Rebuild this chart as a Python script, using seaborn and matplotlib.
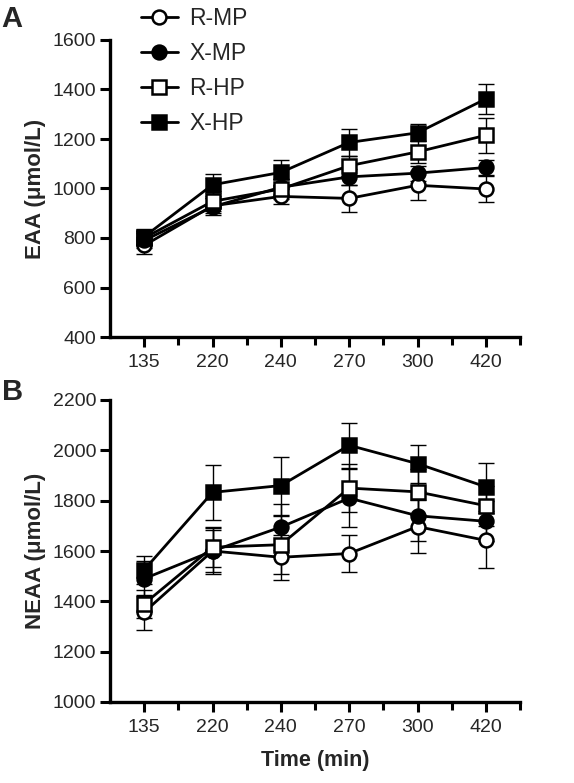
import numpy as np
import pandas as pd
import matplotlib
matplotlib.use("Agg")
import matplotlib.pyplot as plt
import seaborn as sns
from matplotlib.lines import Line2D

sns.set_theme(style="ticks")
plt.rcParams['font.family'] = ['Liberation Sans', 'DejaVu Sans']

times = ["135", "220", "240", "270", "300", "420"]
groups = ["R-MP", "X-MP", "R-HP", "X-HP"]

# Panel A: EAA (µmol/L)
eaa_r_mp = [770, 930, 968, 960, 1013, 998]
eaa_x_mp = [790, 926, 1005, 1047, 1062, 1085]
eaa_r_hp = [800, 948, 998, 1092, 1148, 1215]
eaa_x_hp = [805, 1015, 1065, 1186, 1225, 1362]
eaa_r_mp_se = [35, 30, 30, 55, 58, 53]
eaa_x_mp_se = [30, 35, 35, 32, 30, 32]
eaa_r_hp_se = [30, 40, 40, 40, 45, 70]
eaa_x_hp_se = [30, 45, 50, 55, 35, 60]

# Panel B: NEAA (µmol/L)
neaa_r_mp = [1357, 1600, 1575, 1590, 1697, 1642]
neaa_x_mp = [1490, 1600, 1695, 1810, 1740, 1718]
neaa_r_hp = [1390, 1615, 1625, 1850, 1835, 1780]
neaa_x_hp = [1525, 1833, 1860, 2020, 1947, 1855]
neaa_r_mp_se = [70, 90, 90, 75, 105, 110]
neaa_x_mp_se = [70, 85, 90, 115, 100, 80]
neaa_r_hp_se = [55, 80, 115, 95, 90, 80]
neaa_x_hp_se = [55, 110, 115, 90, 75, 95]

styles = {
    "R-MP": dict(marker="o", mfc="white", ms=10),
    "X-MP": dict(marker="o", mfc="black", ms=10),
    "R-HP": dict(marker="s", mfc="white", ms=10.5),
    "X-HP": dict(marker="s", mfc="black", ms=10.5),
}

def build(vals, ses):
    rows = []
    for g, v, s in zip(groups, vals, ses):
        for i, t in enumerate(times):
            rows.append(dict(group=g, pos=i, time=t, value=v[i], se=s[i]))
    return pd.DataFrame(rows)

dfA = build([eaa_r_mp, eaa_x_mp, eaa_r_hp, eaa_x_hp],
            [eaa_r_mp_se, eaa_x_mp_se, eaa_r_hp_se, eaa_x_hp_se])
dfB = build([neaa_r_mp, neaa_x_mp, neaa_r_hp, neaa_x_hp],
            [neaa_r_mp_se, neaa_x_mp_se, neaa_r_hp_se, neaa_x_hp_se])

fig = plt.figure(figsize=(5.74, 7.83), dpi=100)
axA = fig.add_axes([110/574, 1-337/783, 410/574, 297/783])
axB = fig.add_axes([110/574, 1-702/783, 410/574, 302/783])

def draw(ax, df, ylim, ylabel):
    for g in groups:
        d = df[df.group == g]
        ax.errorbar(d.pos, d.value, yerr=d.se, fmt="none", ecolor="black",
                    elinewidth=1.0, capsize=6, capthick=1.0, zorder=2)
    for k, g in enumerate(groups):
        d = df[df.group == g]
        st = styles[g]
        sns.lineplot(data=d, x="pos", y="value", ax=ax, color="black",
                     linewidth=2.0, marker=st["marker"], markersize=st["ms"],
                     markerfacecolor=st["mfc"], markeredgecolor="black",
                     markeredgewidth=1.8, zorder=3 + k, legend=False)
    ax.set_xlim(-0.5, 5.5)
    ax.set_ylim(*ylim)
    ax.set_yticks(np.arange(ylim[0], ylim[1] + 1, 200))
    ax.set_xticks(range(len(times)))
    ax.set_xticklabels(times)
    ax.set_xticks(np.arange(0.5, 6, 1), minor=True)
    ax.tick_params(axis="both", which="major", labelsize=14, width=2.2,
                   length=7, direction="out", color="black", pad=3)
    ax.tick_params(axis="x", which="minor", width=2.2, length=6,
                   direction="out", color="black")
    ax.tick_params(axis="x", pad=5)
    for s in ["top", "right"]:
        ax.spines[s].set_visible(False)
    for s in ["left", "bottom"]:
        ax.spines[s].set_linewidth(2.4)
        ax.spines[s].set_color("black")
    ax.set_ylabel(ylabel, fontsize=16, fontweight="bold", labelpad=5)
    ax.set_xlabel("")

draw(axA, dfA, (400, 1600), "EAA (\u03bcmol/L)")
draw(axB, dfB, (1000, 2200), "NEAA (\u03bcmol/L)")
axB.set_xlabel("Time (min)", fontsize=15.5, fontweight="bold", labelpad=10)

fig.text(0.003, 1-19/783, "A", fontsize=21, fontweight="bold", va="center", ha="left")
fig.text(0.003, 1-392/783, "B", fontsize=21, fontweight="bold", va="center", ha="left")

handles = [Line2D([0], [0], color="black", linewidth=2.0, marker=styles[g]["marker"],
                  markersize=styles[g]["ms"], markerfacecolor=styles[g]["mfc"],
                  markeredgecolor="black", markeredgewidth=1.8) for g in groups]
fig.legend(handles, groups, loc="upper left", bbox_to_anchor=(141/574, 1-7/783),
           frameon=False, fontsize=16.5, handlelength=1.6, labelspacing=0.52,
           handletextpad=0.5, borderpad=0, borderaxespad=0)

fig.savefig("out.png", dpi=100)
